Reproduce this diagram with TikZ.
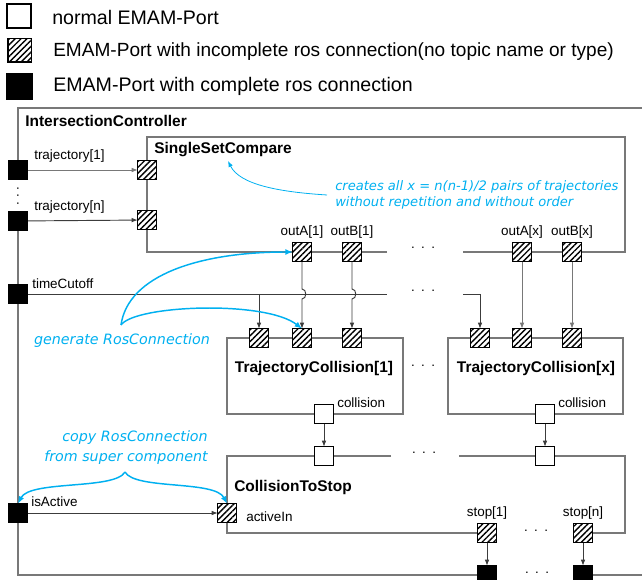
\documentclass[tikz,border=0pt]{standalone}
\usepackage{fontspec}
\setmainfont{Liberation Sans}
\newfontfamily\notefont{DejaVu Sans}
\usetikzlibrary{patterns.meta,arrows.meta,calc}
\definecolor{notec}{RGB}{0,176,240}
\definecolor{boxgray}{RGB}{120,120,120}
\definecolor{conngray}{RGB}{60,60,60}
\pgfdeclarelayer{bg}
\pgfsetlayers{bg,main}
\newcommand\mydots{.\hspace{4.8pt}.\hspace{4.8pt}.}
\newcommand\myvdots{.\hspace{2.6pt}.\hspace{2.6pt}.}
\begin{document}
\begin{tikzpicture}[x=0.75pt,y=-0.75pt,
  port/.style={draw=black,line width=1.2pt,minimum size=14pt,inner sep=0pt,outer sep=0pt},
  wport/.style={port,fill=white},
  bport/.style={port,fill=black},
  hport/.style={port,line width=1.1pt,preaction={fill=white},
    pattern={Lines[angle=45,distance=3.1pt,line width=1.05pt]}},
  box/.style={draw=boxgray,line width=0.8pt},
  conn/.style={draw=conngray,line width=0.7pt,-{Latex[length=4.5pt,width=3.5pt]}},
  plain/.style={draw=conngray,line width=0.7pt},
  title/.style={font=\bfseries\fontsize{11.6}{14}\selectfont,anchor=west,inner sep=0pt},
  lbl/.style={font=\fontsize{10.1}{12}\selectfont,inner sep=0pt},
  legtext/.style={font=\fontsize{14.7}{18}\selectfont,anchor=west,inner sep=0pt},
  legtextn/.style={font=\fontsize{14.3}{18}\selectfont,anchor=west,inner sep=0pt},
  note/.style={text=notec,font=\notefont\itshape\fontsize{9.8}{12}\selectfont,inner sep=0pt},
  bignote/.style={note,font=\notefont\itshape\fontsize{10.7}{13}\selectfont},
  notearrow/.style={draw=notec,line width=1.1pt,-{Latex[length=5.5pt,width=4.5pt]}},
  notethin/.style={draw=notec,line width=0.6pt,-{Latex[length=4.5pt,width=3.5pt]}},
  dotsn/.style={inner sep=0pt,font=\fontsize{10}{12}\selectfont},
]
\useasboundingbox (0,0) rectangle (642,580);

% legend
\node[wport,minimum width=18.3pt,minimum height=18.3pt] (lw) at (19,16) {};
\node[hport,minimum width=17.6pt,minimum height=17.6pt] (lh) at (19.5,50.5) {};
\node[bport,minimum width=18.8pt,minimum height=18.8pt] (lb) at (19.5,86.5) {};
\node[legtext] (lwt) at (52,18) {normal EMAM-Port};
\node[legtextn] (lht) at (53,52) {EMAM-Port with incomplete ros connection(no topic name or type)};
\node[legtext] (lbt) at (53,86) {EMAM-Port with complete ros connection};

% titles
\node[title] (ict) at (25,121) {IntersectionController};
\node[title] (ssct) at (154,150) {SingleSetCompare};
\node[title,anchor=center] (tc1t) at (314,369) {TrajectoryCollision[1]};
\node[title,anchor=center] (tcxt) at (536,369) {TrajectoryCollision[x]};
\node[title] (ctst) at (234,488) {CollisionToStop};

% outer ports
\node[bport] (t1) at (18,170) {};
\node[bport] (tn) at (18,221) {};
\node[bport] (tc) at (18,294) {};
\node[bport] (ia) at (18,513) {};
\node[bport] (s1o) at (487,575) {};
\node[bport] (sno) at (583,575) {};

% SingleSetCompare ports
\node[hport] (sp1) at (147,170) {};
\node[hport] (spn) at (147,220) {};
\node[hport] (oa1) at (302,252) {};
\node[hport] (ob1) at (352,252) {};
\node[hport] (oax) at (522,252) {};
\node[hport] (obx) at (572,252) {};

% TrajectoryCollision ports
\node[hport] (c1a) at (259,338) {};
\node[hport] (c1b) at (302,338) {};
\node[hport] (c1c) at (352,338) {};
\node[wport] (col1) at (324,414) {};
\node[hport] (cxa) at (480,338) {};
\node[hport] (cxb) at (522,338) {};
\node[hport] (cxc) at (572,338) {};
\node[wport] (colx) at (545,414) {};

% CollisionToStop ports
\node[wport] (in1) at (324,456) {};
\node[wport] (inx) at (545,456) {};
\node[hport] (act) at (227,513) {};
\node[hport] (st1) at (487,533) {};
\node[hport] (stn) at (583,533) {};

% port labels
\node[lbl,anchor=west] (lt1) at (34,156) {trajectory[1]};
\node[lbl,anchor=west] (ltn) at (34,207) {trajectory[n]};
\node[lbl,anchor=west] (ltc) at (32,284) {timeCutoff};
\node[lbl,anchor=west] (lia) at (31,502) {isActive};
\node[lbl] (loa1) at (302,232) {outA[1]};
\node[lbl] (lob1) at (352,232) {outB[1]};
\node[lbl] (loax) at (522,232) {outA[x]};
\node[lbl] (lobx) at (572,232) {outB[x]};
\node[lbl,anchor=west] (lc1) at (337,403) {collision};
\node[lbl,anchor=west] (lcx) at (558,403) {collision};
\node[lbl,anchor=west] (lact) at (246,517) {activeIn};
\node[lbl] (lst1) at (487,513) {stop[1]};
\node[lbl] (lstn) at (583,513) {stop[n]};

% dots
\node[dotsn] (d1) at (423,248) {\mydots};
\node[dotsn] (d2) at (423,291) {\mydots};
\node[dotsn] (d3) at (423,366) {\mydots};
\node[dotsn] (d4) at (424,453) {\mydots};
\node[dotsn] (d5) at (536,531) {\mydots};
\node[dotsn] (d6) at (537,573) {\mydots};
\node[dotsn,rotate=90] (d7) at (18,196) {\myvdots};

\coordinate (tcL) at (387,294);
\coordinate (tcR) at (463,294);

\begin{pgfonlayer}{bg}
  % outer box
  \draw[box] (642,108) -- (18,108) -- (t1.center);
  \draw[box] (tn.center) -- (18,575) -- (s1o.center);
  \draw[box] (sno.center) -- (642,575);
  % SingleSetCompare
  \draw[box] (387,252) -- (147,252) -- (147,137) -- (625,137) -- (625,252) -- (463,252);
  % TrajectoryCollision boxes
  \draw[box] (227,338) rectangle (403,414);
  \draw[box] (448,338) rectangle (623,414);
  % CollisionToStop
  \draw[box] (391,456) -- (227,456) -- (227,533) -- (st1.center);
  \draw[box] (stn.center) -- (625,533) -- (625,456) -- (459,456);

  % connectors
  \draw[conn,draw=boxgray] (t1) -- (sp1);
  \draw[conn] (tn) -- (spn);
  \draw[plain] (tc) -- (tcL);
  \draw[conn] (tcR) -| (cxa);
  \draw[conn] (c1a |- tc) -- (c1a);
  \draw[conn] (oa1) -- ($(oa1|-tc)+(0,-5)$) .. controls +(5,0) and +(5,0) .. ($(oa1|-tc)+(0,5)$) -- (c1b);
  \draw[conn] (ob1) -- ($(ob1|-tc)+(0,-5)$) .. controls +(5,0) and +(5,0) .. ($(ob1|-tc)+(0,5)$) -- (c1c);
  \draw[conn,draw=boxgray] (oax) -- (cxb);
  \draw[conn,draw=boxgray] (obx) -- (cxc);
  \draw[conn] (col1) -- (in1);
  \draw[conn] (colx) -- (inx);
  \draw[conn] (ia) -- (act);
  \draw[conn] (st1) -- (s1o);
  \draw[conn] (stn) -- (sno);
\end{pgfonlayer}

% notes
\node[note,anchor=base west] (n1a) at (335,191) {creates all x = n(n-1)/2 pairs of trajectories};
\node[note,anchor=base west] (n1b) at (335,207) {without repetition and without order};
\node[bignote] (n2) at (122,341) {generate RosConnection};
\node[bignote,anchor=east] (n3a) at (208,438) {copy RosConnection};
\node[bignote,anchor=east] (n3b) at (208,458) {from super component};

\coordinate (n1s) at (327,195);
\coordinate (ssca) at (228,161);
\coordinate (b2) at (121,325);
\coordinate (b3) at (125,472);

\draw[notethin] (n1s) .. controls (280,192) and (240,185) .. (ssca);
\draw[notearrow] (b2) .. controls (128,275) and (200,252) .. (oa1.west);
\draw[notearrow] (b2) .. controls (135,305) and (265,300) .. (c1b.north);
\draw[notearrow] (b3) .. controls (115,490) and (30,480) .. (ia.north);
\draw[notearrow] (b3) .. controls (135,490) and (215,480) .. (act.north);
\end{tikzpicture}
\end{document}
